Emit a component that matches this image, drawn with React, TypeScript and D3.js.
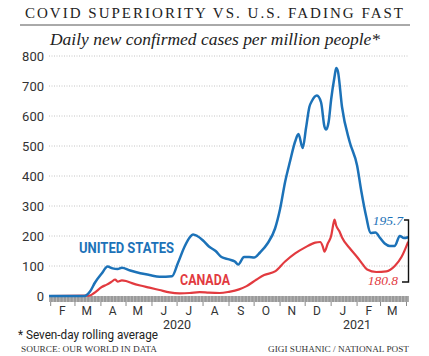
import React from "react";
import * as d3 from "d3";

const W = 429;
const H = 356;

const usDates = [
  "2020-01-30", "2020-03-12", "2020-03-19", "2020-03-25", "2020-04-02", "2020-04-09",
  "2020-04-15", "2020-04-21", "2020-04-26", "2020-05-06", "2020-05-18", "2020-05-29",
  "2020-06-10", "2020-06-25", "2020-07-02", "2020-07-10", "2020-07-16", "2020-07-20",
  "2020-07-25", "2020-08-01", "2020-08-08", "2020-08-16", "2020-08-23", "2020-09-01",
  "2020-09-08", "2020-09-12", "2020-09-19", "2020-09-25", "2020-10-01", "2020-10-08",
  "2020-10-17", "2020-10-26", "2020-11-01", "2020-11-07", "2020-11-13", "2020-11-19",
  "2020-11-23", "2020-11-28", "2020-12-02", "2020-12-06", "2020-12-09", "2020-12-15",
  "2020-12-20", "2020-12-24", "2020-12-26", "2020-12-29", "2021-01-01", "2021-01-05",
  "2021-01-07", "2021-01-09", "2021-01-14", "2021-01-23", "2021-02-01", "2021-02-06",
  "2021-02-12", "2021-02-17", "2021-02-23", "2021-02-28", "2021-03-06", "2021-03-12",
  "2021-03-18", "2021-03-24", "2021-03-29", "2021-04-03",
];
const usValues = [
  0, 0, 15, 45, 75, 98,
  92, 90, 94, 85, 76, 70,
  64, 66, 110, 165, 195, 205,
  200, 185, 165, 150, 130, 122,
  115, 105, 130, 130, 128, 145,
  175, 225, 290, 380, 450, 515,
  540, 493, 560, 630, 650, 668,
  645, 565, 555, 580, 655, 730,
  760, 750, 630, 515, 435, 350,
  263, 210, 212, 195, 175, 167,
  167, 200, 193, 195.7,
];

const caDates = [
  "2020-01-30", "2020-03-18", "2020-03-24", "2020-04-02", "2020-04-08", "2020-04-14",
  "2020-04-18", "2020-04-21", "2020-04-26", "2020-05-01", "2020-05-08", "2020-05-18",
  "2020-05-29", "2020-06-10", "2020-06-22", "2020-07-04", "2020-07-16", "2020-07-28",
  "2020-08-08", "2020-08-21", "2020-09-01", "2020-09-13", "2020-09-22", "2020-10-04",
  "2020-10-13", "2020-10-26", "2020-11-07", "2020-11-19", "2020-12-01", "2020-12-13",
  "2020-12-19", "2020-12-22", "2020-12-24", "2020-12-28", "2021-01-01", "2021-01-04",
  "2021-01-05", "2021-01-07", "2021-01-11", "2021-01-14", "2021-01-23", "2021-02-01",
  "2021-02-07", "2021-02-13", "2021-02-24", "2021-03-08", "2021-03-18", "2021-03-26",
  "2021-04-03",
];
const caValues = [
  0, 1, 10, 30, 38, 48,
  55, 48, 52, 50, 43, 35,
  28, 20, 12, 9, 10, 13,
  11, 10, 14, 22, 33, 55,
  70, 82, 115, 142, 162, 178,
  180, 165, 148, 175, 200, 245,
  255, 235, 215, 195, 160, 130,
  108, 88, 80, 82, 100, 130,
  180.8,
];

const yTicks = [0, 100, 200, 300, 400, 500, 600, 700, 800];
const monthLabels = ["F", "M", "A", "M", "J", "J", "A", "S", "O", "N", "D", "J", "F", "M"];
const yearLabels = ["2020", "2021"];
const yearDates = ["2020-07-01", "2021-02-01"];

const BLUE = "#1c72b8";
const RED = "#e23a3f";

export default function App() {
  const parse = d3.timeParse("%Y-%m-%d");
  const x = d3
    .scaleTime()
    .domain([parse("2020-01-30")!, parse("2021-04-04")!])
    .range([49, 409]);
  const y = d3.scaleLinear().domain([0, 800]).range([296, 56]);

  const us = usDates.map((d, i) => ({ date: parse(d)!, v: usValues[i] }));
  const ca = caDates.map((d, i) => ({ date: parse(d)!, v: caValues[i] }));

  const line = d3
    .line<{ date: Date; v: number }>()
    .x((d) => x(d.date))
    .y((d) => y(d.v))
    .curve(d3.curveMonotoneX);

  const monthStarts = d3.timeMonth.range(parse("2020-02-01")!, parse("2021-04-02")!);
  const monthMids = monthStarts.slice(0, 14).map((m) => new Date(m.getFullYear(), m.getMonth(), 15));
  const bandTicks = d3.timeDay.range(parse("2020-01-31")!, parse("2021-04-04")!, 4);

  const sans = "Roboto, 'Liberation Sans', sans-serif";
  const serif = "'Liberation Serif', 'DejaVu Serif', serif";

  return (
    <svg
      width={W}
      height={H}
      style={{ position: "absolute", left: 0, top: 0, background: "#fff" }}
    >
      <rect x={0} y={0} width={W} height={H} fill="#fff" />
      {/* Title */}
      <text
        x={25}
        y={17.5}
        fontFamily={serif}
        fontSize={15}
        fill="#222"
        textLength={378}
        lengthAdjust="spacing"
      >
        COVID SUPERIORITY VS. U.S. FADING FAST
      </text>
      <line x1={20} x2={410} y1={25} y2={25} stroke="#555" strokeWidth={1} />
      <text
        x={50}
        y={45}
        fontFamily={serif}
        fontStyle="italic"
        fontSize={17}
        fill="#222"
        textLength={330}
        lengthAdjust="spacingAndGlyphs"
      >
        Daily new confirmed cases per million people*
      </text>

      {/* Grid */}
      {yTicks.map((t) => (
        <g key={t}>
          {t > 0 && (
            <line
              x1={49}
              x2={409}
              y1={y(t)}
              y2={y(t)}
              stroke="#c4c4c4"
              strokeWidth={1}
              strokeDasharray="1,1.5"
            />
          )}
          <text
            x={44}
            y={y(t) + 4.5}
            textAnchor="end"
            fontFamily={sans}
            fontSize={13}
            fill="#333"
          >
            {t}
          </text>
        </g>
      ))}

      {/* Axis band */}
      <rect x={49} y={296} width={360} height={6} fill="#9a9a9a" />
      {bandTicks.map((d, i) => (
        <line
          key={i}
          x1={x(d)}
          x2={x(d)}
          y1={296}
          y2={302}
          stroke="#d0d0d0"
          strokeWidth={0.6}
        />
      ))}
      {monthStarts.map((d, i) => (
        <line
          key={"m" + i}
          x1={x(d)}
          x2={x(d)}
          y1={302}
          y2={306}
          stroke="#888"
          strokeWidth={1}
        />
      ))}
      {monthMids.map((d, i) => (
        <text
          key={"ml" + i}
          x={x(d)}
          y={314.5}
          textAnchor="middle"
          fontFamily={sans}
          fontSize={12}
          fill="#333"
        >
          {monthLabels[i]}
        </text>
      ))}
      {yearLabels.map((t, i) => (
        <text
          key={t}
          x={x(parse(yearDates[i])!)}
          y={329}
          textAnchor="middle"
          fontFamily={sans}
          fontSize={12.5}
          fill="#333"
        >
          {t}
        </text>
      ))}

      {/* Lines */}
      <path d={line(ca) || ""} fill="none" stroke={RED} strokeWidth={2.2} strokeLinejoin="round" />
      <path d={line(us) || ""} fill="none" stroke={BLUE} strokeWidth={2.5} strokeLinejoin="round" />

      {/* Series labels */}
      <text
        x={79}
        y={253}
        fontFamily={sans}
        fontWeight="bold"
        fontSize={14.5}
        fill={BLUE}
        textLength={95}
        lengthAdjust="spacingAndGlyphs"
      >
        UNITED STATES
      </text>
      <text
        x={180}
        y={285}
        fontFamily={sans}
        fontWeight="bold"
        fontSize={14.5}
        fill={RED}
        textLength={50}
        lengthAdjust="spacingAndGlyphs"
      >
        CANADA
      </text>

      {/* End annotations */}
      <text
        x={403}
        y={225}
        textAnchor="end"
        fontFamily={serif}
        fontStyle="italic"
        fontSize={13.5}
        fill={BLUE}
      >
        {usValues[usValues.length - 1]}
      </text>
      <text
        x={398}
        y={285}
        textAnchor="end"
        fontFamily={serif}
        fontStyle="italic"
        fontSize={13.5}
        fill={RED}
      >
        {caValues[caValues.length - 1]}
      </text>
      <path
        d={`M404,${220}H408.5V${282}H402`}
        fill="none"
        stroke="#111"
        strokeWidth={1.4}
      />

      {/* Footer */}
      <text
        x={18}
        y={339}
        fontFamily={sans}
        fontSize={12}
        fill="#222"
        textLength={140}
        lengthAdjust="spacingAndGlyphs"
      >
        * Seven-day rolling average
      </text>
      <text
        x={21}
        y={351.5}
        fontFamily={serif}
        fontSize={9}
        fill="#333"
        textLength={136}
        lengthAdjust="spacingAndGlyphs"
      >
        SOURCE: OUR WORLD IN DATA
      </text>
      <text
        x={268}
        y={351.5}
        fontFamily={serif}
        fontSize={9}
        fill="#333"
        textLength={141}
        lengthAdjust="spacingAndGlyphs"
      >
        GIGI SUHANIC / NATIONAL POST
      </text>
    </svg>
  );
}
